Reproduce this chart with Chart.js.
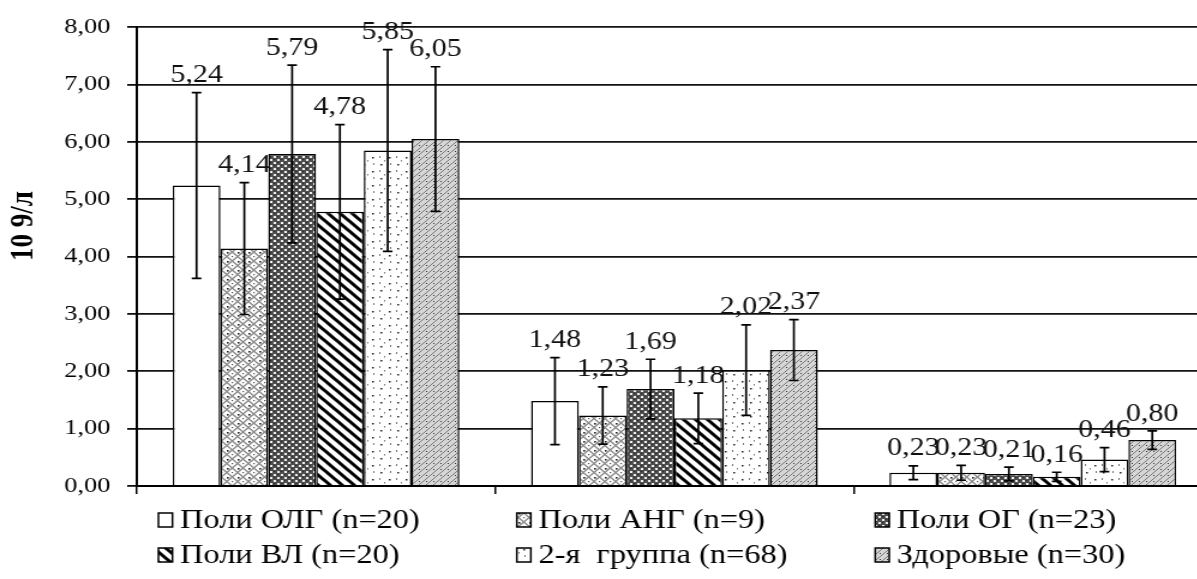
<!DOCTYPE html>
<html>
<head>
<meta charset="utf-8">
<script src="https://cdn.jsdelivr.net/npm/chart.js@4.4.1/dist/chart.umd.min.js"></script>
<style>
  html, body { margin: 0; padding: 0; overflow: hidden; background: #fff; }
  /* the whole figure is drawn narrow and widened horizontally */
  #wrap { width: 1010px; height: 579px; transform: scaleX(1.2); transform-origin: 0 0; }
</style>
</head>
<body>
<div id="wrap"><canvas id="c" width="1010" height="579" style="width:1010px;height:579px"></canvas></div>
<script>
// three groups of measurements, six patient groups each
const categories = ['I', 'II', 'III'];

const seriesNames = [
  'Поли ОЛГ (n=20)', 'Поли АНГ (n=9)', 'Поли ОГ (n=23)',
  'Поли ВЛ (n=20)', '2-я  группа (n=68)', 'Здоровые (n=30)'
];

// mean values
const valuesOLG = [5.24, 1.48, 0.23];
const valuesANG = [4.14, 1.23, 0.23];
const valuesOG  = [5.79, 1.69, 0.21];
const valuesVL  = [4.78, 1.18, 0.16];
const valuesG2  = [5.85, 2.02, 0.46];
const valuesZd  = [6.05, 2.37, 0.80];

// error bar half-widths (±)
const errorsOLG = [1.62, 0.76, 0.12];
const errorsANG = [1.15, 0.50, 0.13];
const errorsOG  = [1.55, 0.52, 0.12];
const errorsVL  = [1.52, 0.44, 0.08];
const errorsG2  = [1.76, 0.79, 0.21];
const errorsZd  = [1.26, 0.53, 0.16];

const yTickLabels = ['0,00', '1,00', '2,00', '3,00', '4,00', '5,00', '6,00', '7,00', '8,00'];
const yTitle = '10 9/л';

const SERIF = 'Liberation Serif';
Chart.defaults.font.family = SERIF;

// ---- fill patterns ----
function tile(w, h, draw) {
  const t = document.createElement('canvas');
  t.width = w; t.height = h;
  const g = t.getContext('2d');
  draw(g, w, h);
  return document.getElementById('c').getContext('2d').createPattern(t, 'repeat');
}

const patWhite = '#ffffff';

const patLattice = tile(9, 9, (g) => {
  g.fillStyle = '#fff'; g.fillRect(0, 0, 9, 9);
  g.strokeStyle = '#8a8a8a'; g.lineWidth = 1.3;
  g.beginPath();
  g.moveTo(0, 4.5); g.lineTo(4.5, 0); g.lineTo(9, 4.5); g.lineTo(4.5, 9); g.closePath();
  g.stroke();
  g.fillStyle = '#222';
  g.fillRect(0, 0, 1.6, 1.6);
  g.fillStyle = '#555';
  g.fillRect(4, 4, 1.2, 1.2);
});

const patDarkDots = tile(6, 6, (g) => {
  g.fillStyle = '#4e4e4e'; g.fillRect(0, 0, 6, 6);
  g.fillStyle = '#f2f2f2';
  g.fillRect(0, 0, 2, 2); g.fillRect(3, 3, 2, 2);
  g.fillStyle = '#222';
  g.fillRect(3, 0, 1, 1); g.fillRect(0, 3, 1, 1);
});

const patStripes = tile(10, 10, (g) => {
  g.fillStyle = '#fff'; g.fillRect(0, 0, 10, 10);
  g.strokeStyle = '#000'; g.lineWidth = 3;
  g.beginPath();
  for (const k of [-10, 0, 10]) { g.moveTo(k - 2, -2); g.lineTo(k + 12, 12); }
  g.stroke();
});

const patSparse = tile(14, 14, (g) => {
  g.fillStyle = '#fff'; g.fillRect(0, 0, 14, 14);
  g.fillStyle = '#222';
  g.fillRect(2, 3, 1.5, 1.5); g.fillRect(9, 10, 1.5, 1.5);
  g.fillStyle = '#777';
  g.fillRect(8, 2, 1, 2); g.fillRect(3, 9, 1, 2); g.fillRect(12, 6, 1, 1.5);
});

const patGrayHatch = tile(6, 6, (g) => {
  g.fillStyle = '#d6d6d6'; g.fillRect(0, 0, 6, 6);
  g.strokeStyle = '#7a7a7a'; g.lineWidth = 1;
  g.beginPath();
  for (const k of [-6, 0, 6]) { g.moveTo(k, 6); g.lineTo(k + 6, 0); }
  g.stroke();
  g.fillStyle = '#333'; g.fillRect(1, 1, 1, 1);
});

function series(i, data, errors, fill) {
  return {
    label: seriesNames[i], data, errors,
    backgroundColor: fill, borderColor: '#000', borderWidth: 1.5,
    categoryPercentage: 0.8, barPercentage: 1.0
  };
}

const datasets = [
  series(0, valuesOLG, errorsOLG, patWhite),
  series(1, valuesANG, errorsANG, patLattice),
  series(2, valuesOG,  errorsOG,  patDarkDots),
  series(3, valuesVL,  errorsVL,  patStripes),
  series(4, valuesG2,  errorsG2,  patSparse),
  series(5, valuesZd,  errorsZd,  patGrayHatch)
];

const fmt = (v) => v.toFixed(2).replace('.', ',');

// whiskers and value labels over each bar
const errorBarPlugin = {
  id: 'errorBars',
  afterDatasetsDraw(chart) {
    const { ctx } = chart;
    const y = chart.scales.y;
    ctx.save();
    ctx.strokeStyle = '#000';
    ctx.lineWidth = 1.7;
    chart.data.datasets.forEach((ds, di) => {
      chart.getDatasetMeta(di).data.forEach((bar, i) => {
        const v = ds.data[i], e = ds.errors[i];
        const top = y.getPixelForValue(v + e);
        const bot = y.getPixelForValue(Math.max(v - e, 0));
        const cap = 4;
        ctx.beginPath();
        ctx.moveTo(bar.x, top); ctx.lineTo(bar.x, bot);
        ctx.moveTo(bar.x - cap, top); ctx.lineTo(bar.x + cap, top);
        ctx.moveTo(bar.x - cap, bot); ctx.lineTo(bar.x + cap, bot);
        ctx.stroke();
      });
    });
    ctx.fillStyle = '#111';
    ctx.font = '25px "' + SERIF + '"';
    ctx.textAlign = 'center';
    ctx.textBaseline = 'middle';
    chart.data.datasets.forEach((ds, di) => {
      chart.getDatasetMeta(di).data.forEach((bar, i) => {
        const v = ds.data[i], e = ds.errors[i];
        const top = y.getPixelForValue(v + e);
        ctx.fillText(fmt(v), bar.x, top - 17);
      });
    });
    ctx.restore();
  }
};

// legend in a 3-column grid under the groups, plus the rotated axis title
const legendPlugin = {
  id: 'gridLegend',
  afterDraw(chart) {
    const { ctx, chartArea: area } = chart;
    const colW = (area.right - area.left) / categories.length;
    ctx.save();
    ctx.font = '27px "' + SERIF + '"';
    ctx.textBaseline = 'middle';
    ctx.textAlign = 'left';
    chart.data.datasets.forEach((ds, i) => {
      const col = i % 3, row = Math.floor(i / 3);
      const x0 = area.left + col * colW;
      const cy = area.bottom + 34 + row * 35;
      ctx.fillStyle = ds.backgroundColor;
      ctx.fillRect(x0 + 18, cy - 7, 11.7, 14);
      ctx.strokeStyle = '#000';
      ctx.lineWidth = 1.5;
      ctx.strokeRect(x0 + 18, cy - 7, 11.7, 14);
      ctx.fillStyle = '#000';
      ctx.fillText(ds.label, x0 + 36, cy + 1);
    });
    ctx.translate(20, 226);
    ctx.rotate(-Math.PI / 2);
    ctx.textAlign = 'center';
    ctx.font = 'bold 27px "' + SERIF + '"';
    ctx.fillText(yTitle, 0, 0);
    ctx.restore();
  }
};

new Chart(document.getElementById('c'), {
  type: 'bar',
  data: { labels: categories, datasets },
  options: {
    responsive: false,
    animation: false,
    devicePixelRatio: 1,
    layout: { padding: { top: 25, bottom: 85, left: 0, right: 0 } },
    plugins: { legend: { display: false }, tooltip: { enabled: false } },
    scales: {
      x: {
        ticks: { display: false },
        grid: { offset: true, drawOnChartArea: false, drawTicks: true, tickLength: 8, color: '#000', lineWidth: 1.5 },
        border: { display: true, color: '#000', width: 2 },
        afterFit(s) { s.height = 8; }
      },
      y: {
        min: 0, max: 8,
        ticks: {
          stepSize: 1, padding: 14, color: '#000',
          font: { family: SERIF, size: 22 },
          callback: (v, i) => yTickLabels[i]
        },
        grid: { color: '#111', lineWidth: 1.8, tickLength: 8, tickColor: '#111', tickWidth: 1.8 },
        border: { display: true, color: '#000', width: 2 },
        afterFit(s) { s.width = 114; }
      }
    }
  },
  plugins: [errorBarPlugin, legendPlugin]
});
</script>
</body>
</html>
